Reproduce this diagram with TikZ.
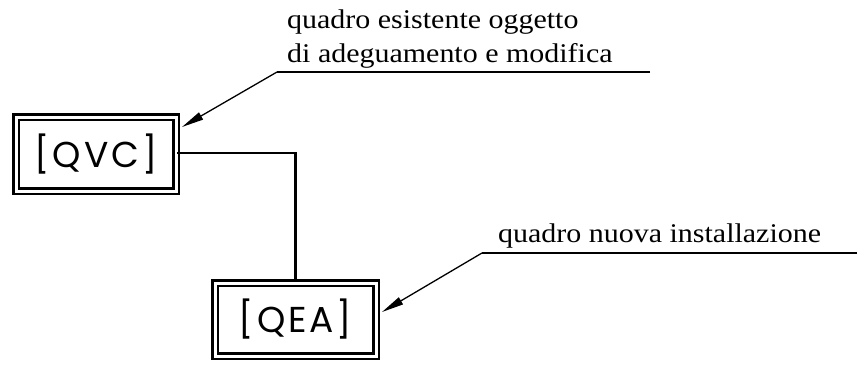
\documentclass[tikz,border=0pt]{standalone}
\usepackage{fontspec}
\setmainfont{Liberation Serif}[FakeStretch=1.11]
\newfontfamily\boxfont{Poppins}[LetterSpace=8]
\usetikzlibrary{arrows.meta}
\begin{document}
\begin{tikzpicture}[x=1pt,y=-1pt,
  panel/.style={draw, double, line width=2.6pt, double distance=3pt, inner sep=0pt,
    font=\boxfont\fontsize{36}{36}\selectfont},
  leader/.style={line width=1.3pt, -{Triangle[length=22pt,width=8pt]}},
  wire/.style={line width=2.6pt},
  label/.style={font=\fontsize{27}{30}\selectfont, inner sep=0pt, anchor=base west}]
\useasboundingbox (0,0) rectangle (859,372);
\node[panel, minimum width=160pt, minimum height=74pt] (qvc) at (96,154) {[QVC]};
\node[panel, minimum width=161pt, minimum height=73pt] (qea) at (295.5,319.5) {[QEA]};
\draw[wire] (qvc.east |- 0,153) -| (qea.north);
\node[label] (t1) at (287,28) {quadro esistente oggetto};
\node[label] (t2) at (287,62) {di adeguamento e modifica};
\node[label] (t3) at (498,242) {quadro nuova installazione};
\coordinate (u1e) at (650,72);
\coordinate (u1s) at (277,72);
\coordinate (a1) at (182,127);
\coordinate (u2e) at (857,253);
\coordinate (u2s) at (482,253);
\coordinate (a2) at (382,312);
\draw[line width=1.3pt] (u1e) -- (u1s);
\draw[leader] (u1s) -- (a1);
\draw[line width=1.3pt] (u2e) -- (u2s);
\draw[leader] (u2s) -- (a2);
\end{tikzpicture}
\end{document}
